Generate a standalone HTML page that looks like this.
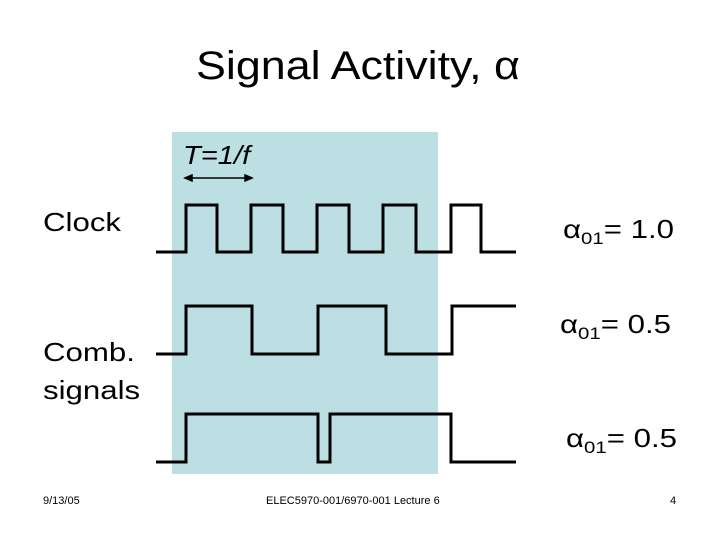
<!DOCTYPE html>
<html><head><style>
body{margin:0;width:720px;height:540px;background:#fff;position:relative;overflow:hidden;font-family:"Liberation Sans",sans-serif;}
.t{position:absolute;white-space:nowrap;color:#000;}
.s{transform:scaleX(1.2);transform-origin:0 0;}
</style></head><body>
<div class="t" style="left:0;width:716px;text-align:center;top:44px;font-size:40px;transform:scaleX(1.12);transform-origin:358px 0;">Signal Activity, α</div>
<svg style="position:absolute;left:0;top:0" width="720" height="540">
<rect x="172" y="132" width="266" height="342" fill="#bcdfe3"/>
<g fill="none" stroke="#000" stroke-width="3">
<polyline points="156,252 186,252 186,205 217,205 217,252 251,252 251,205 283,205 283,252 317,252 317,205 349,205 349,252 383,252 383,205 416,205 416,252 451,252 451,205 481,205 481,252 516,252"/>
<polyline points="156,354 186,354 186,306 252,306 252,354 318,354 318,306 386,306 386,354 452,354 452,306 516,306"/>
<polyline points="156,462 186,462 186,414 318,414 318,462 330,462 330,414 451,414 451,462 516,462"/>
</g>
<g stroke="#000" stroke-width="1.5" fill="#000">
<line x1="188" y1="178" x2="249" y2="178"/>
<polygon points="185,178 192,175 192,181"/>
<polygon points="252,178 245,175 245,181"/>
</g>
</svg>
<div class="t s" style="left:183px;top:140px;font-size:26px;font-style:italic;transform:scaleX(1.12);">T=1/f</div>
<div class="t s" style="left:43px;top:207px;font-size:26px;">Clock</div>
<div class="t s" style="left:43px;top:333px;font-size:26px;line-height:38px;">Comb.<br>signals</div>
<div class="t s" style="left:563px;top:214px;font-size:26px;">α<sub style="font-size:17px;vertical-align:-6px">01</sub>= 1.0</div>
<div class="t s" style="left:560px;top:309px;font-size:26px;">α<sub style="font-size:17px;vertical-align:-6px">01</sub>= 0.5</div>
<div class="t s" style="left:566px;top:423px;font-size:26px;">α<sub style="font-size:17px;vertical-align:-6px">01</sub>= 0.5</div>
<div class="t" style="left:43px;top:495px;font-size:11px;">9/13/05</div>
<div class="t" style="left:266px;top:495px;font-size:11px;">ELEC5970-001/6970-001 Lecture 6</div>
<div class="t" style="left:670px;top:495px;font-size:11px;">4</div>
</body></html>
